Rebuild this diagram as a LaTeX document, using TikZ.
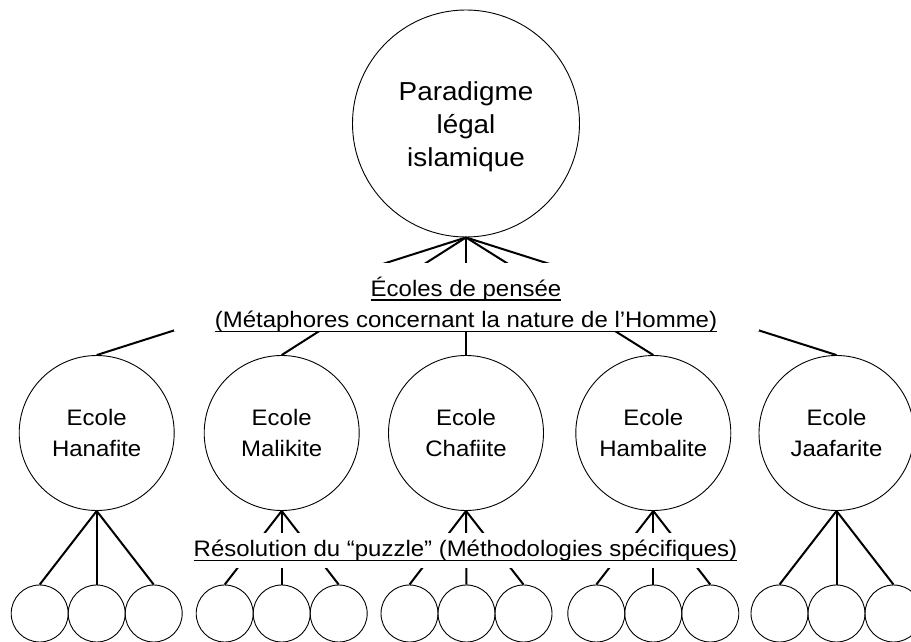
\documentclass[tikz,border=0pt]{standalone}
\usepackage{fontspec}
\setmainfont{Liberation Sans}
\newfontfamily\arialx[FakeStretch=1.07]{Liberation Sans}
\newsavebox\ulbox
\newcommand\ulx[1]{\sbox\ulbox{#1}\rlap{\rule[-4.5pt]{\wd\ulbox}{1.5pt}}\usebox\ulbox}
\tikzset{
  bigcirc/.style={circle, draw, line width=0.9pt, inner sep=0pt, minimum size=227pt, align=center,
    font=\arialx\fontsize{26}{33.3}\selectfont},
  schoolcirc/.style={circle, draw, line width=0.9pt, inner sep=0pt, minimum size=155pt, align=center,
    font=\arialx\fontsize{22.4}{31}\selectfont},
  smallcirc/.style={circle, draw, line width=0.9pt, inner sep=0pt, minimum size=57pt},
  conn/.style={line width=2pt},
  maskbox/.style={rectangle, fill=white, inner sep=0pt},
  labeltext/.style={inner sep=0pt, anchor=base, font=\arialx\fontsize{22.4}{31}\selectfont}
}
\begin{document}
\begin{tikzpicture}[x=1pt,y=-1pt]
\useasboundingbox[fill=white] (0,0) rectangle (911,642);
\clip (0,0) rectangle (911,642);
% main circle
\node[bigcirc] (top) at (466,123.5) {\rule{0pt}{25pt}Paradigme\\légal\\islamique};
% schools
\node[schoolcirc] (han) at (96.7,433) {Ecole\\Hanafite};
\node[schoolcirc] (mal) at (281.7,433) {Ecole\\Malikite};
\node[schoolcirc] (cha) at (466,433) {Ecole\\Chafiite};
\node[schoolcirc] (hamb) at (653.3,433) {Ecole\\Hambalite};
\node[schoolcirc] (jaa) at (836.5,433) {Ecole\\Jaafarite};
% small circles
\foreach \s/\cx in {han/96.7, mal/281.7, cha/466.5, hamb/653.3, jaa/836.5}{
  \node[smallcirc] (\s1) at (\cx-57,613.5) {};
  \node[smallcirc] (\s2) at (\cx,613.5) {};
  \node[smallcirc] (\s3) at (\cx+57,613.5) {};
}
% connectors
\foreach \s in {han, mal, cha, hamb, jaa}{
  \draw[conn] (top.south) -- (\s.north);
  \draw[conn] (\s.south) -- (\s1.north);
  \draw[conn] (\s.south) -- (\s2.north);
  \draw[conn] (\s.south) -- (\s3.north);
}
% labels with white masks
\node[maskbox, minimum width=585pt, minimum height=68pt] (maskA) at (466,297) {};
\node[labeltext] (labA1) at (466,296) {\ulx{Écoles de pensée}};
\node[labeltext] (labA2) at (466,327.5) {\ulx{(Métaphores concernant la nature de l’Homme)}};
\node[maskbox, minimum width=555pt, minimum height=35pt] (maskB) at (465.5,550.5) {};
\node[labeltext] (labB) at (465.5,556.7) {\ulx{Résolution du “puzzle” (Méthodologies spécifiques)}};
\end{tikzpicture}
\end{document}
